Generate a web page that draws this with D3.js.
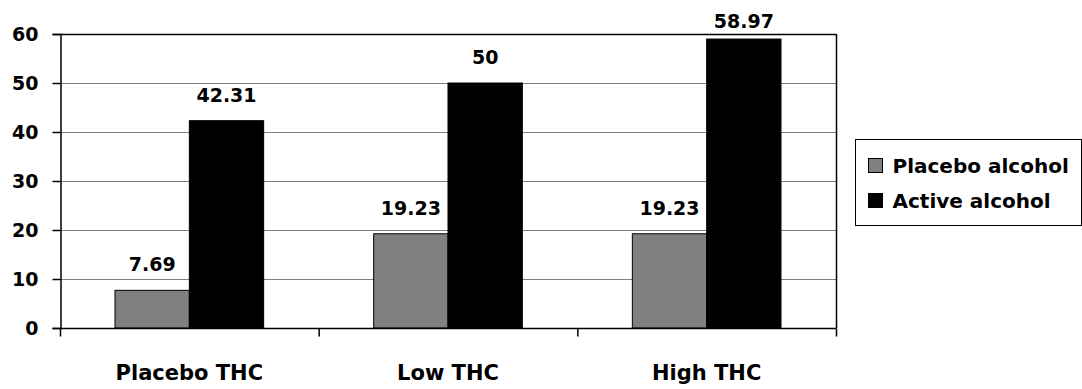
<!DOCTYPE html>
<meta charset="utf-8">
<head>
  <style>
  body { margin: 0; background: #fff; }
  text { font-family: "DejaVu Sans", sans-serif; font-weight: bold; fill: #000; }
  .grid line { stroke: #808080; stroke-width: 1px; }
  </style>
</head>
<body>
<svg width="1082" height="389"></svg>
<script src="https://d3js.org/d3.v7.min.js"></script>
<script>

// data
var categories = ["Placebo THC", "Low THC", "High THC"];
var series = ["Placebo alcohol", "Active alcohol"];
var placeboAlcohol = [7.69, 19.23, 19.23];
var activeAlcohol = [42.31, 50, 58.97];
var yTicks = [0, 10, 20, 30, 40, 50, 60];
var colors = ["#808080", "#000000"];

var svg = d3.select("svg");

// plot area edges (don't use "top", it's window.top)
var plotLeft = 60, plotRight = 836, plotTop = 34, plotBottom = 328;

var x = d3.scaleBand()
    .domain(categories)
    .range([plotLeft, plotRight])
    .paddingInner(0)
    .paddingOuter(0);

var xs = d3.scaleBand()
    .domain(series)
    .range([0, x.bandwidth()])
    .paddingInner(0)
    .paddingOuter(0.74);

var y = d3.scaleLinear()
    .domain([0, 60])
    .range([plotBottom, plotTop]);

// gridlines
svg.append("g")
    .attr("class", "grid")
    .selectAll("line")
    .data(yTicks.filter(function(d) { return d > 0 && d < 60; }))
    .enter().append("line")
    .attr("x1", plotLeft).attr("x2", plotRight)
    .attr("y1", function(d) { return y(d) + 0.5; })
    .attr("y2", function(d) { return y(d) + 0.5; });

// plot border top/right
svg.append("line")
    .attr("x1", plotLeft).attr("x2", plotRight + 0.5)
    .attr("y1", plotTop + 0.5).attr("y2", plotTop + 0.5)
    .attr("stroke", "#000").attr("stroke-width", 1.5);
svg.append("line")
    .attr("x1", plotRight + 0.5).attr("x2", plotRight + 0.5)
    .attr("y1", plotTop).attr("y2", plotBottom)
    .attr("stroke", "#000").attr("stroke-width", 1.5);

// bars
var values = [placeboAlcohol, activeAlcohol];
var rows = [];
categories.forEach(function(c, i) {
  series.forEach(function(s, j) {
    rows.push({cat: c, ser: s, v: values[j][i], j: j});
  });
});

svg.append("g").selectAll("rect")
    .data(rows)
    .enter().append("rect")
    .attr("x", function(d) { return x(d.cat) + xs(d.ser); })
    .attr("y", function(d) { return y(d.v); })
    .attr("width", xs.bandwidth())
    .attr("height", function(d) { return y(0) - y(d.v); })
    .attr("fill", function(d) { return colors[d.j]; })
    .attr("stroke", "#000")
    .attr("stroke-width", 1);

// bar labels
svg.append("g").selectAll("text")
    .data(rows)
    .enter().append("text")
    .attr("x", function(d) { return x(d.cat) + xs(d.ser) + xs.bandwidth() / 2; })
    .attr("y", function(d) { return Math.max(y(d.v) - 19, 28); })
    .attr("text-anchor", "middle")
    .style("font-size", "19px")
    .text(function(d) { return d.v; });

// y axis
var yAxis = d3.axisLeft(y)
    .tickValues(yTicks)
    .tickSize(8)
    .tickPadding(14)
    .tickFormat(d3.format("d"));

var gy = svg.append("g")
    .attr("transform", "translate(" + (plotLeft + 0.5) + ",0)")
    .call(yAxis);
gy.select(".domain").attr("stroke", "#000").attr("stroke-width", 1.5);
gy.selectAll(".tick line").attr("stroke", "#000").attr("stroke-width", 1.5);
gy.selectAll(".tick text")
    .style("font-family", "'DejaVu Sans', sans-serif")
    .style("font-weight", "bold")
    .style("font-size", "19px")
    .attr("fill", "#000");

// x axis
var gx = svg.append("g")
    .attr("transform", "translate(0," + (plotBottom + 0.5) + ")");
gx.append("line")
    .attr("x1", plotLeft).attr("x2", plotRight + 0.5)
    .attr("stroke", "#000").attr("stroke-width", 1.5);
gx.selectAll(".sep")
    .data(categories.concat(["end"]))
    .enter().append("line")
    .attr("class", "sep")
    .attr("x1", function(d, i) { return plotLeft + i * x.bandwidth() + 0.5; })
    .attr("x2", function(d, i) { return plotLeft + i * x.bandwidth() + 0.5; })
    .attr("y1", 0).attr("y2", 8)
    .attr("stroke", "#000").attr("stroke-width", 1.5);
gx.selectAll(".cat")
    .data(categories)
    .enter().append("text")
    .attr("class", "cat")
    .attr("x", function(d) { return x(d) + x.bandwidth() / 2; })
    .attr("y", 51)
    .attr("text-anchor", "middle")
    .style("font-size", "21px")
    .text(function(d) { return d; });

// legend
var legend = svg.append("g").attr("transform", "translate(855.5,139.5)");
legend.append("rect")
    .attr("width", 226).attr("height", 86)
    .attr("fill", "#fff").attr("stroke", "#000").attr("stroke-width", 1);
var li = legend.selectAll(".li")
    .data(series)
    .enter().append("g")
    .attr("class", "li")
    .attr("transform", function(d, i) { return "translate(13," + (19 + i * 35) + ")"; });
li.append("rect")
    .attr("width", 14).attr("height", 14)
    .attr("fill", function(d, i) { return colors[i]; })
    .attr("stroke", "#000").attr("stroke-width", 1);
li.append("text")
    .attr("x", 24)
    .attr("y", 14)
    .style("font-size", "20px")
    .text(function(d) { return d; });

</script>
</body>
